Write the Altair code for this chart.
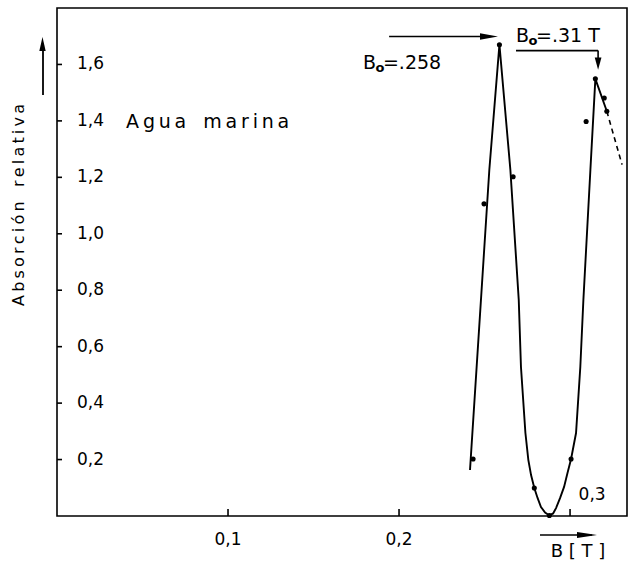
import altair as alt
import pandas as pd

# ---- data ----
# hand-drawn curve (vertices along the drawn line)
curve_B = [0.2415, 0.2528, 0.2587, 0.2651, 0.2700, 0.2713, 0.2739, 0.2756, 0.2772, 0.2791,
           0.2810, 0.2830, 0.2854, 0.2879, 0.2901, 0.2918, 0.2942, 0.2965, 0.2985, 0.3006,
           0.3035, 0.3060, 0.3078, 0.3119, 0.3148, 0.3215]
curve_A = [0.163, 1.227, 1.670, 1.227, 0.766, 0.528, 0.294, 0.199, 0.145, 0.099,
           0.064, 0.032, 0.012, 0.002, 0.009, 0.028, 0.064, 0.103, 0.152, 0.202,
           0.294, 0.528, 0.766, 1.227, 1.549, 1.434]
# dashed extrapolation
dash_B = [0.3215, 0.3304]
dash_A = [1.434, 1.245]
# measured points
pts_B = [0.2433, 0.2497, 0.2587, 0.2667, 0.2791, 0.2879, 0.3006, 0.3094, 0.3148, 0.3200, 0.3215]
pts_A = [0.202, 1.106, 1.670, 1.202, 0.099, 0.002, 0.202, 1.398, 1.549, 1.481, 1.434]
# axes
y_ticks = [0.2, 0.4, 0.6, 0.8, 1.0, 1.2, 1.4, 1.6]
y_tick_labels = ["0,2", "0,4", "0,6", "0,8", "1,0", "1,2", "1,4", "1,6"]
x_ticks = [0.1, 0.2, 0.3]
x_tick_labels = ["0,1", "0,2", "0,3"]
x_domain = [0, 0.3333]
y_domain = [0, 1.8]

W, H = 570, 508
FONT = "DejaVu Sans"
TS = "\u2009"  # thin space used for letter spacing
WS = "\u2002"  # en space between words


def spaced(*words):
    return (TS + WS + TS).join(TS.join(w) for w in words)


xs = alt.Scale(domain=x_domain, nice=False, zero=False)
ys = alt.Scale(domain=y_domain, nice=False, zero=False)


def X(f):
    return alt.X(f, type="quantitative", scale=xs, axis=None)


def Y(f):
    return alt.Y(f, type="quantitative", scale=ys, axis=None)


curve = pd.DataFrame({"B": curve_B, "A": curve_A, "i": range(len(curve_B))})
dash = pd.DataFrame({"B": dash_B, "A": dash_A, "i": range(len(dash_B))})
pts = pd.DataFrame({"B": pts_B, "A": pts_A})
yt = pd.DataFrame({"v": y_ticks, "lab": y_tick_labels})
xt = pd.DataFrame({"v": x_ticks, "lab": x_tick_labels})
xt_below = xt[xt["v"] < 0.25]

line = alt.Chart(curve).mark_line(color="black", strokeWidth=1.9).encode(
    x=X("B"), y=Y("A"), order="i:Q")
dashed = alt.Chart(dash).mark_line(color="black", strokeWidth=1.6, strokeDash=[5, 4]).encode(
    x=X("B"), y=Y("A"), order="i:Q")
dots = alt.Chart(pts).mark_circle(color="black", size=26, opacity=1).encode(x=X("B"), y=Y("A"))

ytick_marks = alt.Chart(yt).mark_rule(color="black", strokeWidth=1.6).encode(
    y=Y("v"), x=alt.value(0), x2=alt.value(5))
ytick_text = alt.Chart(yt).mark_text(align="left", baseline="middle", font=FONT, fontSize=17,
                                     color="black").encode(
    y=Y("v"), x=alt.value(20), text="lab:N")
xtick_marks = alt.Chart(xt).mark_rule(color="black", strokeWidth=1.6).encode(
    x=X("v"), y=alt.value(H), y2=alt.value(H - 7))
xtick_text = alt.Chart(xt_below).mark_text(align="center", baseline="middle", font=FONT,
                                           fontSize=17, color="black").encode(
    x=X("v"), y=alt.value(H + 24), text="lab:N")

# annotations inside the plot (data coordinates)
ann_B = [0.3129, 0.0404]
ann_A = [0.0745, 1.397]
ann_t = ["0,3", spaced("Agua", "marina")]
ann_03 = alt.Chart(pd.DataFrame({"B": ann_B[:1], "A": ann_A[:1], "t": ann_t[:1]})).mark_text(
    align="center", baseline="middle", font=FONT, fontSize=17, color="black").encode(
    x=X("B"), y=Y("A"), text="t:N")
ann_agua = alt.Chart(pd.DataFrame({"B": ann_B[1:], "A": ann_A[1:], "t": ann_t[1:]})).mark_text(
    align="left", baseline="middle", font=FONT, fontSize=19, color="black").encode(
    x=X("B"), y=Y("A"), text="t:N")

# B_o labels: "B", subscript "o", and the value
bo_B = [0.1789, 0.2684]
bo_A = [1.606, 1.702]
bo_val = ["=.258", "=.31 T"]
bo = pd.DataFrame({"B": bo_B, "A": bo_A, "v": bo_val})
bo_B_txt = alt.Chart(bo).mark_text(align="left", baseline="middle", font=FONT, fontSize=19,
                                   color="black").encode(
    x=X("B"), y=Y("A"), text=alt.value("B"))
bo_sub = alt.Chart(bo).mark_text(align="left", baseline="middle", font=FONT, fontSize=13,
                                 fontWeight="bold", color="black", dx=12.5, dy=5).encode(
    x=X("B"), y=Y("A"), text=alt.value("o"))
bo_v = alt.Chart(bo).mark_text(align="left", baseline="middle", font=FONT, fontSize=19,
                               color="black", dx=20).encode(
    x=X("B"), y=Y("A"), text="v:N")

# arrow lines (data coordinates)
arr = pd.DataFrame({
    "B": [0.1942, 0.2684, 0.3164],
    "B2": [0.2480, 0.3164, 0.3164],
    "A": [1.699, 1.649, 1.649],
    "A2": [1.699, 1.649, 1.600],
})
arrow_lines = alt.Chart(arr).mark_rule(color="black", strokeWidth=1.6).encode(
    x=X("B"), x2="B2:Q", y=Y("A"), y2="A2:Q")
head_r = alt.Chart(pd.DataFrame({"B": [0.2526], "A": [1.699]})).mark_point(
    shape="M-1,-0.35L1,0L-1,0.35Z", filled=True, size=324, color="black", opacity=1).encode(
    x=X("B"), y=Y("A"))
head_d = alt.Chart(pd.DataFrame({"B": [0.3164], "A": [1.603]})).mark_point(
    shape="M-0.55,-1L0,1L0.55,-1Z", filled=True, size=150, color="black", opacity=1).encode(
    x=X("B"), y=Y("A"))

# axis-title decorations (pixel positions outside the plot)
one = pd.DataFrame({"k": [0]})
ytitle = alt.Chart(one).mark_text(angle=270, align="center", baseline="middle", font=FONT,
                                  fontSize=16, color="black").encode(
    x=alt.value(-38), y=alt.value(197),
    text=alt.value(spaced("Absorción", "relativa")))
yarrow = alt.Chart(one).mark_rule(color="black", strokeWidth=1.8).encode(
    x=alt.value(-14), y=alt.value(87), y2=alt.value(36))
yarrow_head = alt.Chart(one).mark_point(shape="M-0.45,1L0,-1L0.45,1Z", filled=True, size=200,
                                        color="black", opacity=1).encode(
    x=alt.value(-14.5), y=alt.value(36))
xtitle = alt.Chart(one).mark_text(align="center", baseline="middle", font=FONT, fontSize=18,
                                  color="black").encode(
    x=alt.value(521), y=alt.value(544), text=alt.value("B [ T ]"))
xarrow = alt.Chart(one).mark_rule(color="black", strokeWidth=1.6).encode(
    x=alt.value(483), x2=alt.value(535), y=alt.value(527))
xarrow_head = alt.Chart(one).mark_point(shape="M-1,-0.3L1,0L-1,0.3Z", filled=True, size=400,
                                        color="black", opacity=1).encode(
    x=alt.value(530), y=alt.value(527))

chart = alt.layer(
    line, dashed, dots, ytick_marks, ytick_text, xtick_marks, xtick_text,
    ann_03, ann_agua, bo_B_txt, bo_sub, bo_v, arrow_lines, head_r, head_d,
    ytitle, yarrow, yarrow_head, xtitle, xarrow, xarrow_head,
).properties(
    width=W, height=H,
    autosize=alt.AutoSizeParams(type="none"),
    padding={"left": 57, "top": 8, "right": 1, "bottom": 45},
    background="white",
).configure_view(stroke="black", strokeWidth=1.6)

chart.save("out.html", embed_options={"renderer": "svg", "actions": False})
